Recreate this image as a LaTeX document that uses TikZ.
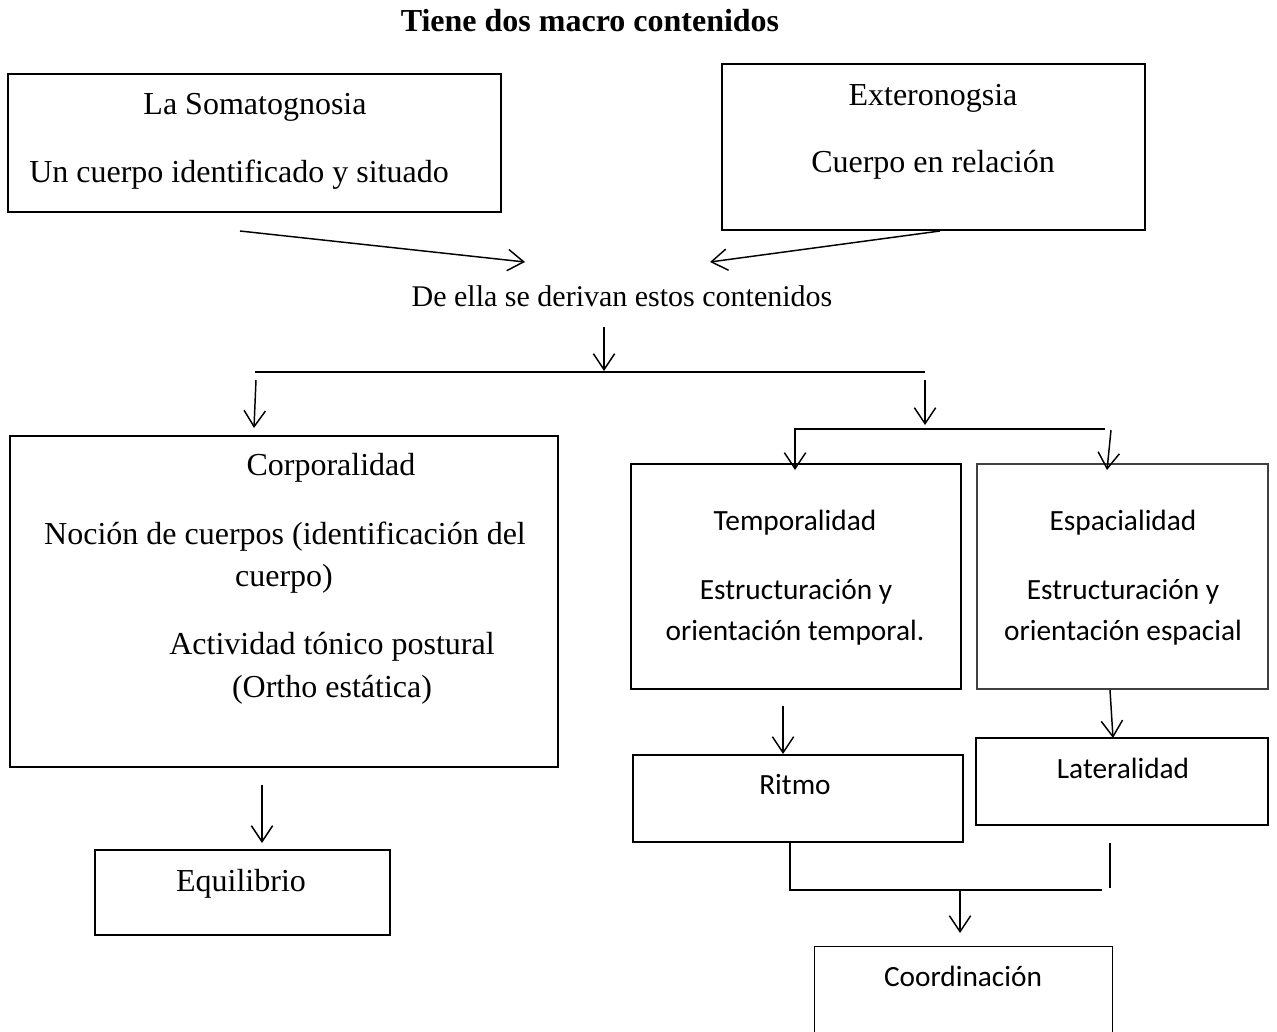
\documentclass[tikz,border=0pt]{standalone}
\usepackage{fontspec}
\setmainfont{Liberation Serif}
\newfontfamily\calib{Carlito}
\usetikzlibrary{arrows.meta,fit}
\begin{document}
\begin{tikzpicture}[x=0.75pt,y=-0.75pt,
 box/.style={draw, line width=1.1pt, inner sep=0pt},
 txt/.style={inner sep=0pt, anchor=base, font=\fontsize{24}{28}\selectfont},
 ctxt/.style={inner sep=0pt, anchor=base, font=\calib\fontsize{22}{26}\selectfont},
 arr/.style={line width=1.1pt, -{Straight Barb[length=12pt,width=16pt,line width=1.1pt]}},
 ln/.style={line width=1.5pt}]
\useasboundingbox (0,0) rectangle (1277,1031);
\fill[white] (0,0) rectangle (1277,1031);

% boxes
\node[box, fit={(8,74) (501,212)}] (soma) {};
\node[box, fit={(722,64) (1145,230)}] (exter) {};
\node[box, fit={(10,436) (558,767)}] (corp) {};
\node[box, fit={(95,850) (390,935)}] (equi) {};
\node[box, line width=2pt, fit={(631,464) (961,689)}] (temp) {};
\node[box, draw=black!75, line width=1.5pt, fit={(977,464) (1268,689)}] (espa) {};
\node[box, fit={(633,755) (963,842)}] (ritmo) {};
\node[box, fit={(976,738) (1268,825)}] (late) {};
\node[inner sep=0pt, fit={(815,947) (1112,1040)}] (coord) {};
\draw[line width=1.1pt] (coord.south west) -- (coord.north west) -- (coord.north east) -- (coord.south east);

% texts
\node[txt, font=\bfseries\fontsize{24}{28}\selectfont] (title) at (590,32) {Tiene dos macro contenidos};
\node[txt] (t1) at (255,114) {La Somatognosia};
\node[txt] (t2) at (239,182) {Un cuerpo identificado y situado};
\node[txt] (t3) at (933,105) {Exteronogsia};
\node[txt] (t4) at (933,172) {Cuerpo en relación};
\node[txt, font=\fontsize{22.5}{27}\selectfont] (deriv) at (622,306) {De ella se derivan estos contenidos};
\node[txt] (t5) at (331,475) {Corporalidad};
\node[txt] (t6) at (285,544) {Noción de cuerpos (identificación del};
\node[txt] (t7) at (284,586) {cuerpo)};
\node[txt] (t8) at (332,654) {Actividad tónico postural};
\node[txt] (t9) at (332,697) {(Ortho estática)};
\node[txt] (t10) at (241,891) {Equilibrio};
\node[ctxt] (t11) at (795,530) {Temporalidad};
\node[ctxt] (t12) at (796,599) {Estructuración y};
\node[ctxt] (t13) at (795,640) {orientación temporal.};
\node[ctxt] (t14) at (1123,530) {Espacialidad};
\node[ctxt] (t15) at (1123,599) {Estructuración y};
\node[ctxt] (t16) at (1123,640) {orientación espacial};
\node[ctxt] (t17) at (795,794) {Ritmo};
\node[ctxt] (t18) at (1123,778) {Lateralidad};
\node[ctxt] (t19) at (963,986) {Coordinación};

% connector points
\coordinate (a1s) at (240,231); \coordinate (a1e) at (525,262);
\coordinate (a2s) at (940,231); \coordinate (a2e) at (710,262);
\coordinate (a3s) at (604,327); \coordinate (a3e) at (604,371);
\coordinate (hL) at (255,372); \coordinate (hR) at (925,372);
\coordinate (a4s) at (256,380); \coordinate (a4e) at (254,428);
\coordinate (a5s) at (925,380); \coordinate (a5e) at (925,425);
\coordinate (bR) at (1105,429); \coordinate (bL) at (795,429); \coordinate (a6e) at (795,470);
\coordinate (a7s) at (1111,430); \coordinate (a7e) at (1107,470);
\coordinate (a8s) at (783,706); \coordinate (a8e) at (783,754);
\coordinate (a9s) at (1110,690); \coordinate (a9e) at (1113,738);
\coordinate (cLt) at (790,843); \coordinate (cLb) at (790,890); \coordinate (cRb) at (1102,890);
\coordinate (dRt) at (1110,843); \coordinate (dRb) at (1110,888);
\coordinate (a10s) at (960,890); \coordinate (a10e) at (960,933);
\coordinate (a11s) at (262,785); \coordinate (a11e) at (262,843);

% connectors
\draw[arr] (a1s) -- (a1e);
\draw[arr] (a2s) -- (a2e);
\draw[arr] (a3s) -- (a3e);
\draw[ln] (hL) -- (hR);
\draw[arr] (a4s) -- (a4e);
\draw[arr] (a5s) -- (a5e);
\draw[arr] (bR) -- (bL) -- (a6e);
\draw[arr] (a7s) -- (a7e);
\draw[arr] (a8s) -- (a8e);
\draw[arr] (a9s) -- (a9e);
\draw[ln] (cLt) -- (cLb) -- (cRb);
\draw[ln] (dRt) -- (dRb);
\draw[arr] (a10s) -- (a10e);
\draw[arr] (a11s) -- (a11e);
\end{tikzpicture}
\end{document}
